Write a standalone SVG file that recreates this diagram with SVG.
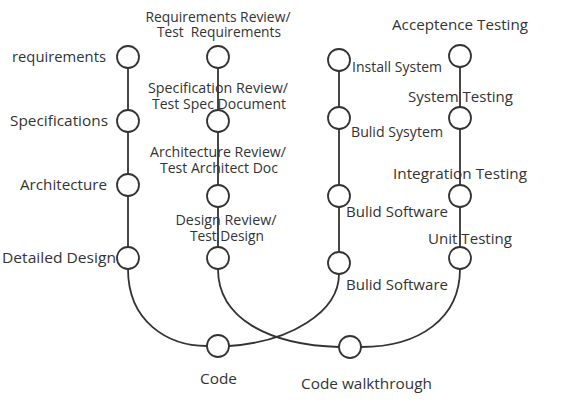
<svg xmlns="http://www.w3.org/2000/svg" width="562" height="405" viewBox="0 0 562 405">
  <style>
    .edge { fill: none; stroke: #333; stroke-width: 1.8; }
    .node circle { fill: #fff; stroke: #333; stroke-width: 1.8; }
    text { font-family: "Open Sans", "Noto Sans", "Liberation Sans", sans-serif; font-size: 14px; fill: #333; text-anchor: middle; white-space: pre; }
  </style>
  <rect width="562" height="405" fill="#fff"/>

  <!-- connectors: vertical columns and the curves meeting at Code / Code walkthrough -->
  <g id="connectors">
    <line class="edge" x1="128" y1="57" x2="128" y2="258"/>
    <line class="edge" x1="218" y1="57" x2="218" y2="258"/>
    <line class="edge" x1="339" y1="60" x2="339" y2="263"/>
    <line class="edge" x1="460" y1="56" x2="460" y2="258"/>
    <path class="edge" d="M128,269 C128,322 168,346 207,346"/>
    <path class="edge" d="M229,346 C290,342 339,312 339,274"/>
    <path class="edge" d="M218,269 C218,318 268,345 339,347"/>
    <path class="edge" d="M361,347 C420,347 460,318 460,269"/>
  </g>

  <!-- left column: development phases -->
  <g id="requirements" class="node"><circle cx="128" cy="57" r="11"/><text x="59" y="62" textLength="94" lengthAdjust="spacingAndGlyphs">requirements</text></g>
  <g id="specifications" class="node"><circle cx="128" cy="121" r="11"/><text x="59" y="126" textLength="98" lengthAdjust="spacingAndGlyphs">Specifications</text></g>
  <g id="architecture" class="node"><circle cx="128" cy="185" r="11"/><text x="63.5" y="190" textLength="87" lengthAdjust="spacingAndGlyphs">Architecture</text></g>
  <g id="detailed-design" class="node"><circle cx="128" cy="258" r="11"/><text x="59" y="263" textLength="114" lengthAdjust="spacingAndGlyphs">Detailed Design</text></g>

  <!-- second column: reviews -->
  <g id="req-review" class="node"><circle cx="218" cy="57" r="11"/><text x="218" y="22" textLength="145" lengthAdjust="spacingAndGlyphs">Requirements Review/</text><text x="219" y="37" textLength="124" lengthAdjust="spacingAndGlyphs">Test  Requirements</text></g>
  <g id="spec-review" class="node"><circle cx="218" cy="121" r="11"/><text x="218" y="93" textLength="140" lengthAdjust="spacingAndGlyphs">Specification Review/</text><text x="219" y="109" textLength="134" lengthAdjust="spacingAndGlyphs">Test Spec Document</text></g>
  <g id="arch-review" class="node"><circle cx="218" cy="196" r="11"/><text x="218" y="157" textLength="136" lengthAdjust="spacingAndGlyphs">Architecture Review/</text><text x="219" y="173" textLength="118" lengthAdjust="spacingAndGlyphs">Test Architect Doc</text></g>
  <g id="design-review" class="node"><circle cx="218" cy="258" r="11"/><text x="226" y="225" textLength="101" lengthAdjust="spacingAndGlyphs">Design Review/</text><text x="227" y="241" textLength="74" lengthAdjust="spacingAndGlyphs">Test Design</text></g>

  <!-- bottom -->
  <g id="code" class="node"><circle cx="218" cy="346" r="11"/><text x="218.5" y="384" textLength="37" lengthAdjust="spacingAndGlyphs">Code</text></g>
  <g id="code-walkthrough" class="node"><circle cx="350" cy="347" r="11"/><text x="366.5" y="389" textLength="131" lengthAdjust="spacingAndGlyphs">Code walkthrough</text></g>

  <!-- third column: builds -->
  <g id="install-system" class="node"><circle cx="339" cy="60" r="11"/><text x="397" y="72" textLength="90" lengthAdjust="spacingAndGlyphs">Install System</text></g>
  <g id="build-system" class="node"><circle cx="339" cy="118" r="11"/><text x="397" y="137" textLength="92" lengthAdjust="spacingAndGlyphs">Bulid Sysytem</text></g>
  <g id="build-software-1" class="node"><circle cx="339" cy="196" r="11"/><text x="397" y="217" textLength="102" lengthAdjust="spacingAndGlyphs">Bulid Software</text></g>
  <g id="build-software-2" class="node"><circle cx="339" cy="263" r="11"/><text x="397" y="290" textLength="102" lengthAdjust="spacingAndGlyphs">Bulid Software</text></g>

  <!-- right column: testing -->
  <g id="acceptance-testing" class="node"><circle cx="460" cy="56" r="11"/><text x="460" y="30" textLength="136" lengthAdjust="spacingAndGlyphs">Acceptence Testing</text></g>
  <g id="system-testing" class="node"><circle cx="460" cy="118" r="11"/><text x="460.5" y="102" textLength="105" lengthAdjust="spacingAndGlyphs">System Testing</text></g>
  <g id="integration-testing" class="node"><circle cx="460" cy="196" r="11"/><text x="460" y="179" textLength="134" lengthAdjust="spacingAndGlyphs">Integration Testing</text></g>
  <g id="unit-testing" class="node"><circle cx="460" cy="258" r="11"/><text x="470" y="244" textLength="84" lengthAdjust="spacingAndGlyphs">Unit Testing</text></g>
</svg>
